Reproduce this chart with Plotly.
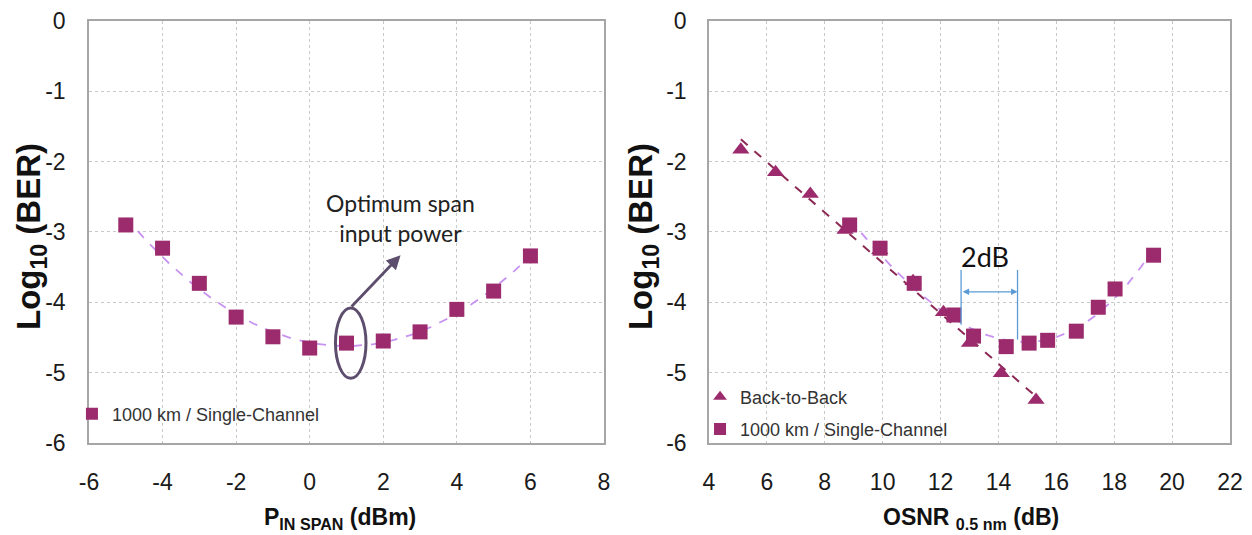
import numpy as np
import plotly.graph_objects as go

# ---------------- data ----------------
p_in = [-5, -4, -3, -2, -1, 0, 1, 2, 3, 4, 5, 6]
ber_span = [-2.90, -3.23, -3.73, -4.21, -4.49, -4.65, -4.58, -4.55, -4.42, -4.10, -3.84, -3.34]

osnr_b2b = [5.1, 6.3, 7.5, 8.7, 9.9, 11.05, 12.1, 13.0, 14.1, 15.3]
ber_b2b = [-1.83, -2.15, -2.46, -2.97, -3.26, -3.70, -4.14, -4.58, -5.01, -5.39]

osnr_1000 = [8.86, 9.91, 11.09, 12.46, 13.14, 14.27, 15.06, 15.7, 16.69, 17.45, 18.03, 19.36]
ber_1000 = [-2.90, -3.23, -3.73, -4.18, -4.48, -4.63, -4.58, -4.54, -4.41, -4.07, -3.81, -3.33]

left_xticks = [-6, -4, -2, 0, 2, 4, 6, 8]
right_xticks = [4, 6, 8, 10, 12, 14, 16, 18, 20, 22]
yticks = [0, -1, -2, -3, -4, -5, -6]

MARK = "#9b2b6c"
FIT_LIGHT = "#c892f2"
FIT_DARK = "#8c2a55"
ANNOT = "#5d4e6d"
BLUE = "#5b9bd5"
SANS = "Liberation Sans, Arial, sans-serif"
CAL = "Lato, Open Sans, sans-serif"

W, H = 1244, 527  # page body adds an 8 px margin


def labels(vals):
    return [str(v) for v in vals]  # plain hyphen minus as in the reference


# trend lines (fits of the measured points, as drawn by the original trendlines)
def fit(x, y, deg):
    c = np.polyfit(x, y, deg)
    xs = np.linspace(min(x), max(x), 200)
    return xs, np.polyval(c, xs)


fx1, fy1 = fit(p_in, ber_span, 2)
fx2, fy2 = fit(osnr_b2b, ber_b2b, 1)
fx3, fy3 = fit(osnr_1000, ber_1000, 3)

fig = go.Figure()

# left panel
fig.add_trace(go.Scatter(x=fx1, y=fy1, mode="lines", xaxis="x", yaxis="y",
                         line=dict(color=FIT_LIGHT, width=1.8, dash="dash"),
                         showlegend=False, hoverinfo="skip"))
fig.add_trace(go.Scatter(x=p_in, y=ber_span, mode="markers", xaxis="x", yaxis="y",
                         name="1000 km / Single-Channel", legend="legend",
                         marker=dict(symbol="square", size=15, color=MARK)))

# right panel
fig.add_trace(go.Scatter(x=fx2, y=fy2, mode="lines", xaxis="x2", yaxis="y2",
                         line=dict(color=FIT_DARK, width=2, dash="dash"),
                         showlegend=False, hoverinfo="skip"))
fig.add_trace(go.Scatter(x=fx3, y=fy3, mode="lines", xaxis="x2", yaxis="y2",
                         line=dict(color=FIT_LIGHT, width=1.8, dash="dash"),
                         showlegend=False, hoverinfo="skip"))
fig.add_trace(go.Scatter(x=osnr_b2b, y=ber_b2b, mode="markers", xaxis="x2", yaxis="y2",
                         name="Back-to-Back", legend="legend2", legendgroup="a",
                         marker=dict(symbol="triangle-up", size=15, color=MARK)))
fig.add_trace(go.Scatter(x=osnr_1000, y=ber_1000, mode="markers", xaxis="x2", yaxis="y2",
                         name="1000 km / Single-Channel", legend="legend2", legendgroup="b",
                         marker=dict(symbol="square", size=15, color=MARK)))

tickfont = dict(family=SANS, size=23, color="#1a1a1a")
axis_common = dict(showgrid=True, gridcolor="#c8c8c8", griddash="dot", gridwidth=1,
                   showline=True, linecolor="#a6a6a6", linewidth=1.5, mirror=True,
                   zeroline=False, ticks="", tickfont=tickfont, automargin=False)

YDOM = [0.1746, 0.9753]
fig.update_layout(
    width=W, height=H,
    margin=dict(l=0, r=0, t=0, b=0, autoexpand=False),
    paper_bgcolor="white", plot_bgcolor="white",
    xaxis=dict(domain=[0.0651, 0.4791], range=[-6, 8], tickvals=left_xticks,
               ticktext=labels(left_xticks), anchor="y", ticklabelstandoff=18, **axis_common),
    yaxis=dict(domain=YDOM, range=[-6, 0], tickvals=yticks,
               ticktext=labels(yticks), anchor="x", ticklabelstandoff=17, **axis_common),
    xaxis2=dict(domain=[0.5635, 0.9823], range=[4, 22], tickvals=right_xticks,
                ticktext=labels(right_xticks), anchor="y2", ticklabelstandoff=18, **axis_common),
    yaxis2=dict(domain=YDOM, range=[-6, 0], tickvals=yticks,
                ticktext=labels(yticks), anchor="x2", ticklabelstandoff=16, **axis_common),
    legend=dict(x=0.0514, y=0.2296, xanchor="left", yanchor="middle", itemsizing="constant",
                bgcolor="rgba(0,0,0,0)", font=dict(family=SANS, size=18, color="#333333"),
                itemwidth=30),
    legend2=dict(x=0.5563, y=0.2315, xanchor="left", yanchor="middle", itemsizing="constant",
                 bgcolor="rgba(0,0,0,0)", font=dict(family=SANS, size=18, color="#333333"),
                 tracegroupgap=6, traceorder="grouped", itemwidth=30),
    showlegend=True,
)

title_font = dict(family=SANS, size=33, color="#111111", weight="bold")
xtitle_font = dict(family=SANS, size=23, color="#111111", weight="bold")
C = dict(xanchor="center", yanchor="middle", showarrow=False)
anns = [
    dict(text="Log<sub>10</sub> (BER)", x=0.0185, y=0.5655, xref="paper", yref="paper",
         textangle=-90, font=title_font, **C),
    dict(text="Log<sub>10</sub> (BER)", x=0.5105, y=0.5655, xref="paper", yref="paper",
         textangle=-90, font=title_font, **C),
    dict(text="P<sub>IN SPAN</sub> (dBm)", x=0.2669, y=0.032, xref="paper", yref="paper",
         font=xtitle_font, **C),
    dict(text="OSNR <sub>0.5 nm</sub> (dB)", x=0.7741, y=0.032, xref="paper", yref="paper",
         font=xtitle_font, **C),
    dict(text="Optimum span<br>input power", x=2.48, y=-2.8, xref="x", yref="y",
         font=dict(family=CAL, size=23, color="#222222"), **C),
    dict(x=2.47, y=-3.33, ax=1.1, ay=-4.08, xref="x", yref="y", axref="x", ayref="y",
         text="", showarrow=True, arrowhead=2, arrowsize=1, arrowwidth=2.8, arrowcolor=ANNOT),
    dict(text="2dB", x=13.53, y=-3.35, xref="x2", yref="y2",
         font=dict(family=CAL, size=27, color="#111111"), **C),
    dict(x=14.66, y=-3.85, ax=12.71, ay=-3.85, xref="x2", yref="y2", axref="x2", ayref="y2",
         text="", showarrow=True, arrowhead=2, arrowside="end+start", arrowsize=1,
         arrowwidth=1.3, arrowcolor=BLUE, standoff=0, startstandoff=0),
]
fig.update_layout(annotations=anns)

fig.add_shape(type="circle", xref="x", yref="y", x0=0.7, x1=1.53, y0=-5.08, y1=-4.08,
              line=dict(color=ANNOT, width=3))
fig.add_shape(type="line", xref="x2", yref="y2", x0=12.71, x1=12.71, y0=-3.54, y1=-4.32,
              line=dict(color=BLUE, width=1.3))
fig.add_shape(type="line", xref="x2", yref="y2", x0=14.66, x1=14.66, y0=-3.54, y1=-4.53,
              line=dict(color=BLUE, width=1.3))

fig.write_html("out.html")
